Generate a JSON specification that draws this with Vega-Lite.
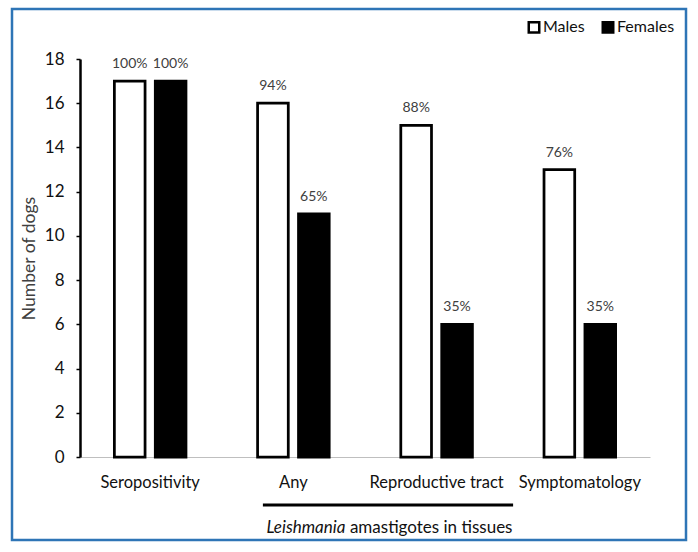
{
  "$schema": "https://vega.github.io/schema/vega-lite/v6.json",
  "width": 674,
  "height": 531,
  "autosize": {"type": "none"},
  "padding": {"left": 12, "top": 9, "right": 12, "bottom": 12},
  "background": "white",
  "config": {
    "font": "Lato",
    "view": {"stroke": "#2E75B6", "strokeWidth": 2.5},
    "axis": {"labelFont": "Lato", "titleFont": "Lato", "grid": false}
  },
  "datasets": {
    "bars": [
      {"category": "Seropositivity", "sex": "Males", "dogs": 17, "pct": "100%"},
      {"category": "Seropositivity", "sex": "Females", "dogs": 17, "pct": "100%"},
      {"category": "Any", "sex": "Males", "dogs": 16, "pct": "94%"},
      {"category": "Any", "sex": "Females", "dogs": 11, "pct": "65%"},
      {"category": "Reproductive tract", "sex": "Males", "dogs": 15, "pct": "88%"},
      {"category": "Reproductive tract", "sex": "Females", "dogs": 6, "pct": "35%"},
      {"category": "Symptomatology", "sex": "Males", "dogs": 13, "pct": "76%"},
      {"category": "Symptomatology", "sex": "Females", "dogs": 6, "pct": "35%"}
    ],
    "bracket": [
      {"start": "Any", "end": "Reproductive tract", "level": -2.17}
    ],
    "note": [
      {"category": "Any", "italic": "Leishmania", "rest": "amastigotes in tissues", "level": -3.2}
    ]
  },
  "layer": [
    {
      "data": {"name": "bars"},
      "mark": {"type": "bar", "stroke": "black", "strokeWidth": 2.75},
      "encoding": {
        "x": {
          "field": "category", "type": "nominal",
          "scale": {"domain": ["Seropositivity", "Any", "Reproductive tract", "Symptomatology"], "range": [68, 638], "paddingInner": 0.5, "paddingOuter": 0.24},
          "axis": {"title": null, "labelAngle": 0, "offset": -83, "domainColor": "#bfbfbf", "domainWidth": 1.2, "ticks": false, "labelFontSize": 16.5, "labelColor": "#111111", "labelPadding": 17}
        },
        "xOffset": {
          "field": "sex", "type": "nominal",
          "scale": {"domain": ["Males", "Females"], "paddingInner": 0.25}
        },
        "y": {
          "field": "dogs", "type": "quantitative",
          "scale": {"domain": [0, 18], "nice": false, "range": [448, 50]},
          "axis": {"title": "Number of dogs", "values": [0, 2, 4, 6, 8, 10, 12, 14, 16, 18], "offset": -68, "domainColor": "black", "domainWidth": 2.5, "tickColor": "black", "tickSize": 4, "tickWidth": 1.5, "labelFontSize": 17, "labelColor": "#111111", "labelPadding": 12, "titleFontSize": 17.5, "titleFontWeight": "normal", "titleColor": "#404040", "titlePadding": 6}
        },
        "fill": {
          "field": "sex", "type": "nominal",
          "scale": {"domain": ["Males", "Females"], "range": ["white", "black"]},
          "legend": {"title": null, "orient": "none", "legendX": 514, "legendY": 10, "direction": "horizontal", "symbolType": "square", "symbolSize": 110, "symbolStrokeColor": "black", "symbolStrokeWidth": 2.5, "labelFontSize": 16, "labelColor": "#111111", "labelOffset": 1, "columnPadding": 12}
        }
      }
    },
    {
      "data": {"name": "bars"},
      "mark": {"type": "text", "baseline": "alphabetic", "dy": -13, "fontSize": 14, "color": "#404040"},
      "encoding": {
        "x": {"field": "category", "type": "nominal"},
        "xOffset": {"field": "sex", "type": "nominal"},
        "y": {"field": "dogs", "type": "quantitative"},
        "text": {"field": "pct"}
      }
    },
    {
      "data": {"name": "bracket"},
      "mark": {"type": "rule", "color": "black", "strokeWidth": 3, "xOffset": -30.5, "x2Offset": 76.5},
      "encoding": {
        "x": {"field": "start", "type": "nominal"},
        "x2": {"field": "end"},
        "y": {"field": "level", "type": "quantitative"}
      }
    },
    {
      "data": {"name": "note"},
      "mark": {"type": "text", "align": "right", "baseline": "middle", "dx": 52, "fontSize": 17, "fontStyle": "italic", "color": "#111111"},
      "encoding": {
        "x": {"field": "category", "type": "nominal"},
        "y": {"field": "level", "type": "quantitative"},
        "text": {"field": "italic"}
      }
    },
    {
      "data": {"name": "note"},
      "mark": {"type": "text", "align": "left", "baseline": "middle", "dx": 56.5, "fontSize": 17, "color": "#111111"},
      "encoding": {
        "x": {"field": "category", "type": "nominal"},
        "y": {"field": "level", "type": "quantitative"},
        "text": {"field": "rest"}
      }
    }
  ]
}
